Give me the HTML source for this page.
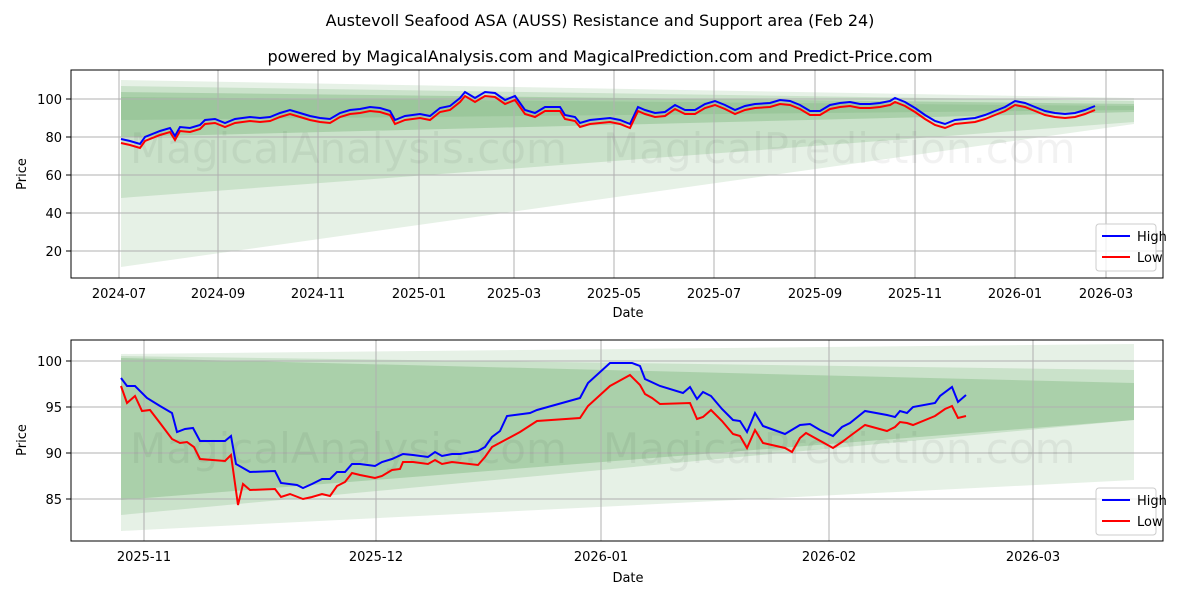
<!DOCTYPE html><html><head><style>body{margin:0;background:#fff}svg{font-family:"DejaVu Sans","Liberation Sans",sans-serif}</style></head><body>
<svg width="1200" height="600" xmlns="http://www.w3.org/2000/svg">
<rect width="1200" height="600" fill="#fff"/>
<text x="600" y="26" font-size="16" text-anchor="middle">Austevoll Seafood ASA (AUSS) Resistance and Support area (Feb 24)</text>
<text x="600" y="62" font-size="16" text-anchor="middle">powered by MagicalAnalysis.com and MagicalPrediction.com and Predict-Price.com</text>
<g>
<polygon points="121,80 1134,98 1134,124 121,267" fill="#2e8b2e" fill-opacity="0.12"/>
<polygon points="121,86 1134,101 1134,122 121,198" fill="#2e8b2e" fill-opacity="0.15"/>
<polygon points="121,92 1134,104 1134,112 121,137" fill="#2e8b2e" fill-opacity="0.2"/>
<polygon points="121,97 1134,106 1134,110 121,120" fill="#2e8b2e" fill-opacity="0.12"/>
<g stroke="#b0b0b0" stroke-width="1">
<line x1="119" y1="70" x2="119" y2="278"/><line x1="218" y1="70" x2="218" y2="278"/><line x1="318" y1="70" x2="318" y2="278"/><line x1="419" y1="70" x2="419" y2="278"/><line x1="514" y1="70" x2="514" y2="278"/><line x1="614" y1="70" x2="614" y2="278"/><line x1="714" y1="70" x2="714" y2="278"/><line x1="815" y1="70" x2="815" y2="278"/><line x1="915" y1="70" x2="915" y2="278"/><line x1="1015" y1="70" x2="1015" y2="278"/><line x1="1106" y1="70" x2="1106" y2="278"/>
<line x1="71" y1="99" x2="1163" y2="99"/><line x1="71" y1="137" x2="1163" y2="137"/><line x1="71" y1="175" x2="1163" y2="175"/><line x1="71" y1="213" x2="1163" y2="213"/><line x1="71" y1="251" x2="1163" y2="251"/>
</g>
<text x="130" y="163" font-size="42" fill="#000" fill-opacity="0.05">MagicalAnalysis.com</text>
<text x="603" y="163" font-size="42" fill="#000" fill-opacity="0.05">MagicalPrediction.com</text>
<polyline fill="none" stroke="#0000ff" stroke-width="2" points="121,139 130,141 140,144 145,137 160,131 170,128 175,136 180,127 190,128 200,125 205,120 215,119 225,123 235,119 250,117 260,118 270,117 280,113 290,110 300,113 310,116 320,118 330,119 340,113 350,110 360,109 370,107 380,108 390,111 395,120 405,116 420,114 430,116 440,108 450,106 460,98 465,92 475,98 485,92 495,93 505,100 515,96 525,110 535,113 545,107 560,107 565,115 575,117 580,123 590,120 600,119 610,118 620,120 630,124 638,107 645,110 655,113 665,112 675,105 685,110 695,110 705,104 715,101 725,105 735,110 745,106 755,104 770,103 780,100 790,101 800,105 810,111 820,111 830,105 840,103 850,102 860,104 870,104 880,103 890,101 895,98 905,102 915,108 925,115 935,121 945,124 955,120 965,119 975,118 985,115 995,111 1005,107 1015,101 1025,103 1035,107 1045,111 1055,113 1065,114 1075,113 1085,110 1095,106"/>
<polyline fill="none" stroke="#ff0000" stroke-width="2" transform="translate(0,4)" points="121,139 130,141 140,144 145,137 160,131 170,128 175,136 180,127 190,128 200,125 205,120 215,119 225,123 235,119 250,117 260,118 270,117 280,113 290,110 300,113 310,116 320,118 330,119 340,113 350,110 360,109 370,107 380,108 390,111 395,120 405,116 420,114 430,116 440,108 450,106 460,98 465,92 475,98 485,92 495,93 505,100 515,96 525,110 535,113 545,107 560,107 565,115 575,117 580,123 590,120 600,119 610,118 620,120 630,124 638,107 645,110 655,113 665,112 675,105 685,110 695,110 705,104 715,101 725,105 735,110 745,106 755,104 770,103 780,100 790,101 800,105 810,111 820,111 830,105 840,103 850,102 860,104 870,104 880,103 890,101 895,98 905,102 915,108 925,115 935,121 945,124 955,120 965,119 975,118 985,115 995,111 1005,107 1015,101 1025,103 1035,107 1045,111 1055,113 1065,114 1075,113 1085,110 1095,106"/>
<rect x="71" y="70" width="1092" height="208" fill="none" stroke="#000"/>
<g font-size="13" text-anchor="end">
<text x="62" y="104">100</text><text x="62" y="142">80</text><text x="62" y="180">60</text><text x="62" y="218">40</text><text x="62" y="256">20</text></g>
<g stroke="#000"><line x1="66" y1="99" x2="71" y2="99"/><line x1="66" y1="137" x2="71" y2="137"/><line x1="66" y1="175" x2="71" y2="175"/><line x1="66" y1="213" x2="71" y2="213"/><line x1="66" y1="251" x2="71" y2="251"/></g>
<g font-size="13" text-anchor="middle">
<text x="119" y="298">2024-07</text><text x="218" y="298">2024-09</text><text x="318" y="298">2024-11</text><text x="419" y="298">2025-01</text><text x="514" y="298">2025-03</text><text x="614" y="298">2025-05</text><text x="714" y="298">2025-07</text><text x="815" y="298">2025-09</text><text x="915" y="298">2025-11</text><text x="1015" y="298">2026-01</text><text x="1106" y="298">2026-03</text></g>
<text x="628" y="317" font-size="13" text-anchor="middle">Date</text>
<text x="26" y="174" font-size="13" text-anchor="middle" transform="rotate(-90 26 174)">Price</text>
<rect x="1096" y="224" width="60" height="47" rx="3" fill="#fff" fill-opacity="0.8" stroke="#ccc"/>
<line x1="1102" y1="236" x2="1130" y2="236" stroke="#00f" stroke-width="2"/><text x="1137" y="241" font-size="13">High</text>
<line x1="1102" y1="257" x2="1130" y2="257" stroke="#f00" stroke-width="2"/><text x="1137" y="262" font-size="13">Low</text>
</g>
<g>
<polygon points="121,354 1134,344 1134,480 121,531" fill="#2e8b2e" fill-opacity="0.12"/>
<polygon points="121,356 1134,370 1134,420 121,515" fill="#2e8b2e" fill-opacity="0.15"/>
<polygon points="121,358 1134,383 1134,420 121,500" fill="#2e8b2e" fill-opacity="0.2"/>
<g stroke="#b0b0b0" stroke-width="1">
<line x1="144" y1="340" x2="144" y2="541"/><line x1="376" y1="340" x2="376" y2="541"/><line x1="601" y1="340" x2="601" y2="541"/><line x1="829" y1="340" x2="829" y2="541"/><line x1="1033" y1="340" x2="1033" y2="541"/>
<line x1="71" y1="361" x2="1163" y2="361"/><line x1="71" y1="407" x2="1163" y2="407"/><line x1="71" y1="453" x2="1163" y2="453"/><line x1="71" y1="499" x2="1163" y2="499"/>
</g>
<text x="130" y="463" font-size="42" fill="#000" fill-opacity="0.05">MagicalAnalysis.com</text>
<text x="603" y="463" font-size="42" fill="#000" fill-opacity="0.05">MagicalPrediction.com</text>
<polyline fill="none" stroke="#0000ff" stroke-width="2" points="121,378 127,386 135,386 147,398 160,406 172,413 177,432 185,429 193,428 200,441 225,441 231,436 236,464 250,472 275,471 281,483 297,485 303,488 312,484 322,479 330,479 337,472 345,472 352,464 360,464 375,466 382,462 392,459 403,454 413,455 428,457 435,452 442,456 452,454 460,454 478,451 485,447 492,437 500,431 507,416 530,413 537,410 580,398 588,383 610,363 632,363 640,366 645,379 660,386 683,393 690,387 697,399 703,392 711,396 722,409 733,420 740,421 747,432 755,413 763,426 785,434 800,425 810,424 820,430 833,436 842,427 850,423 865,411 887,415 895,417 900,411 907,413 913,407 935,403 940,396 952,387 958,402 966,395"/>
<polyline fill="none" stroke="#ff0000" stroke-width="2" points="121,386 127,403 135,396 142,411 150,410 160,423 172,439 180,443 187,442 194,447 200,459 225,461 231,455 238,505 243,484 250,490 275,489 281,497 290,494 303,499 312,497 322,494 330,496 337,486 345,482 352,473 360,475 375,478 382,476 392,470 400,469 403,462 413,462 428,464 435,460 442,464 452,462 478,465 485,457 492,447 507,439 520,432 537,421 580,418 588,406 610,386 630,375 640,385 645,394 652,398 660,404 690,403 697,419 703,417 711,410 722,421 733,434 740,436 747,448 755,430 763,443 785,448 792,452 800,438 806,433 833,448 842,442 850,436 865,425 887,431 895,427 900,422 907,423 913,425 935,416 945,409 952,406 958,418 966,416"/>
<rect x="71" y="340" width="1092" height="201" fill="none" stroke="#000"/>
<g font-size="13" text-anchor="end"><text x="62" y="366">100</text><text x="62" y="412">95</text><text x="62" y="458">90</text><text x="62" y="504">85</text></g>
<g stroke="#000"><line x1="66" y1="361" x2="71" y2="361"/><line x1="66" y1="407" x2="71" y2="407"/><line x1="66" y1="453" x2="71" y2="453"/><line x1="66" y1="499" x2="71" y2="499"/></g>
<g font-size="13" text-anchor="middle"><text x="144" y="561">2025-11</text><text x="376" y="561">2025-12</text><text x="601" y="561">2026-01</text><text x="829" y="561">2026-02</text><text x="1033" y="561">2026-03</text></g>
<text x="628" y="582" font-size="13" text-anchor="middle">Date</text>
<text x="26" y="440" font-size="13" text-anchor="middle" transform="rotate(-90 26 440)">Price</text>
<rect x="1096" y="488" width="60" height="47" rx="3" fill="#fff" fill-opacity="0.8" stroke="#ccc"/>
<line x1="1102" y1="500" x2="1130" y2="500" stroke="#00f" stroke-width="2"/><text x="1137" y="505" font-size="13">High</text>
<line x1="1102" y1="521" x2="1130" y2="521" stroke="#f00" stroke-width="2"/><text x="1137" y="526" font-size="13">Low</text>
</g>
</svg></body></html>
